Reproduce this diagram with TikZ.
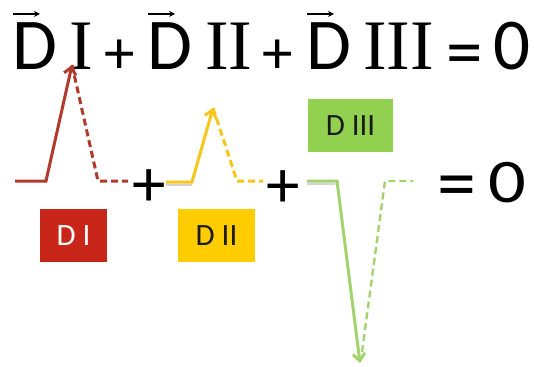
\documentclass[tikz,border=0pt]{standalone}
\usepackage{graphicx}
\usepackage{fontspec}
\setmainfont{Carlito}
\newfontfamily\romfont{Liberation Serif}
\usetikzlibrary{arrows.meta}
\definecolor{dRed}{HTML}{C9261A}
\definecolor{dRedLine}{HTML}{B23A2C}
\definecolor{dYellow}{HTML}{FFCC00}
\definecolor{dYellowLine}{HTML}{F5C71A}
\definecolor{dGreen}{HTML}{92D050}
\definecolor{dGreenLine}{HTML}{A3D36C}
\definecolor{dInk}{HTML}{1A1A1A}
\tikzset{
  eqtxt/.style={inner sep=0pt, anchor=base west, font=\fontsize{73}{80}\selectfont},
  romtxt/.style={inner sep=0pt, anchor=base west, font=\fontsize{71}{80}\selectfont\romfont},
  optxt/.style={inner sep=0pt, anchor=base, font=\fontsize{73}{80}\selectfont},
  plustxt/.style={inner sep=0pt, anchor=base, font=\fontsize{61}{70}\selectfont},
  lowplus/.style={inner sep=0pt, anchor=base, font=\fontsize{67}{74}\selectfont},
  lowop/.style={inner sep=0pt, anchor=base, font=\fontsize{78}{84}\selectfont},
  dlabel/.style={inner sep=0pt, minimum height=53pt, font=\fontsize{31}{34}\selectfont},
  vecline/.style={line width=1.6pt, -{Stealth[length=6pt,width=6pt]}},
  pulse/.style={line width=3pt, line join=miter},
  dashpulse/.style={pulse, dash pattern=on 7pt off 4pt},
  shade/.style={line width=2.6pt, gray!35}
}
\newcommand{\dvecarrow}[1]{\draw[vecline] ([xshift=1pt,yshift=9pt]#1.north west) -- ++(27,0);}

\begin{document}
\begin{tikzpicture}[x=1pt,y=-1pt]
\useasboundingbox (0,0) rectangle (534,366);
% equation on top
\node[eqtxt] (d1) at (12,70) {D};
\node[romtxt] (r1) at (69,70) {I};
\node[plustxt] (p1) at (120,74) {+};
\node[eqtxt] (d2) at (147,70) {D};
\node[romtxt] (r2) at (205,70) {II};
\node[plustxt] (p2) at (278,74) {+};
\node[eqtxt] (d3) at (306,70) {D};
\node[romtxt] (r3) at (363,70) {III};
\node[optxt] (e1) at (464.5,77) {=};
\node[eqtxt] (z1) at (493,70) {0};
\dvecarrow{d1}
\dvecarrow{d2}
\dvecarrow{d3}
% pulses
\coordinate (tipA) at (72,65);
\coordinate (tipB) at (213,108);
\coordinate (tipC) at (360,363);
\draw[pulse, dRedLine, -{Straight Barb[length=7pt,width=12pt]}] (15,181) -- (46,181) -- (tipA);
\draw[dashpulse, dRedLine] (tipA) -- (98,181) -- (128,181);
\draw[shade] (166,185) -- (192,185);
\draw[pulse, dYellowLine, -{Straight Barb[length=7pt,width=12pt]}] (166,182) -- (192,182) -- (tipB);
\draw[dashpulse, dYellowLine] (tipB) -- (237,181) -- (263,181);
\draw[shade] (307,184) -- (335,184);
\draw[pulse, dGreenLine, -{Straight Barb[length=7pt,width=12pt]}] (307,181) -- (337,181) -- (tipC);
\draw[dashpulse, dGreenLine, line width=2.4pt] (362,352) -- (385,181) -- (413,181);
% operators in the lower row
\node[lowplus] (p3) at (149.5,206) {+};
\node[lowplus] (p4) at (283.5,207) {+};
\node[lowop] (e2) at (456.5,209.5) {=};
\node[eqtxt, font=\fontsize{62}{68}\selectfont] (z2) at (488,202) {\scalebox{1.2}[1]{0}};
% labels
\node[dlabel, fill=dRed, text=white, minimum width=67pt] (lab1) at (73.5,235.5) {D I};
\node[dlabel, fill=dYellow, text=dInk, minimum width=77pt] (lab2) at (216.5,235.5) {D II};
\node[dlabel, fill=dGreen, text=dInk, minimum width=85pt] (lab3) at (350.5,125.5) {D III};
\end{tikzpicture}
\end{document}
